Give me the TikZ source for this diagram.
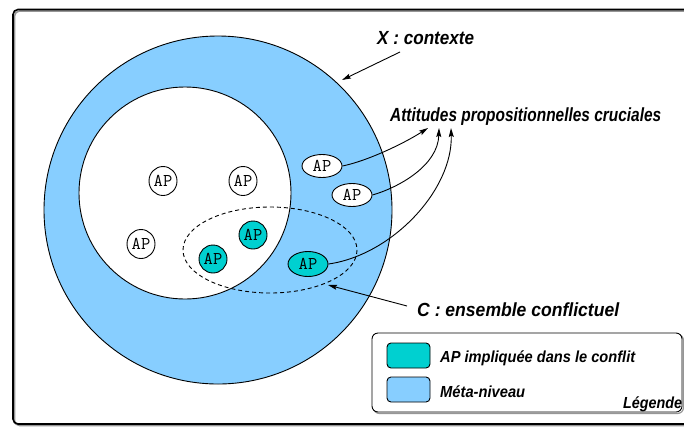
\documentclass[tikz,border=0pt]{standalone}
\usepackage{fontspec}
\setmainfont{Liberation Sans}
\usepackage{graphicx}
\usetikzlibrary{shapes.geometric,arrows.meta}

\definecolor{metablue}{RGB}{135,206,255}
\definecolor{apteal}{RGB}{0,208,208}
\definecolor{shadowgray}{RGB}{150,150,150}

% squeeze a label to a given width, keeping its height
\newcommand\fitw[2]{\resizebox{#1}{\height}{#2}}

\tikzset{
  apnode/.style={ellipse, draw, line width=0.9pt, inner sep=0pt,
    font=\ttfamily\fontsize{18}{18}\selectfont},
  apround/.style={apnode, fill=white, minimum width=28pt, minimum height=29pt},
  apflat/.style={apnode, fill=white, minimum width=40pt, minimum height=23pt},
  apconf/.style={apnode, fill=apteal, minimum width=28pt, minimum height=28pt},
  apconfflat/.style={apnode, fill=apteal, minimum width=40pt, minimum height=25pt},
  biglabel/.style={anchor=base west, inner sep=0pt,
    font=\bfseries\itshape\fontsize{19}{19}\selectfont},
  leglabel/.style={anchor=base west, inner sep=0pt,
    font=\bfseries\itshape\fontsize{16}{16}\selectfont},
  arr/.style={line width=0.9pt, -{Stealth[length=9pt,width=5pt,inset=1.5pt]}},
  swatch/.style={draw, line width=0.9pt, rounded corners=4pt}
}

\begin{document}
\begin{tikzpicture}[x=1pt,y=-1pt]
\useasboundingbox (0,0) rectangle (684,426);

% outer frame with its shadow
\draw[shadowgray, line width=1.6pt, rounded corners=5pt] (14.5,11) rectangle (692,425.5);
\draw[line width=1.6pt, rounded corners=5pt] (13,9.5) rectangle (690,424);

% context X (meta level) and the inner region
\draw[fill=metablue, line width=0.9pt] (218,210) circle[radius=174];
\draw[fill=white, line width=0.9pt] (185,193) circle[radius=106];

% conflicting set C
\draw[dashed, dash pattern=on 4pt off 3pt, line width=0.9pt]
  (270,250) ellipse[x radius=87, y radius=43];

% propositional attitudes
\node[apround] (a1) at (163,181) {AP};
\node[apround] (a2) at (243,181) {AP};
\node[apround] (a3) at (141,244) {AP};
\node[apconf] (c1) at (213,259) {AP};
\node[apconf] (c2) at (253,235) {AP};
\node[apconfflat] (c3) at (308,264) {AP};
\node[apflat] (m1) at (322,166) {AP};
\node[apflat] (m2) at (352,195) {AP};

% labels
\node[biglabel] (lx) at (377,44) {\fitw{97pt}{X : contexte}};
\node[biglabel] (lat) at (390,121) {\fitw{271pt}{Attitudes propositionnelles cruciales}};
\node[biglabel] (lc) at (417,316) {\fitw{202pt}{C : ensemble conflictuel}};

\coordinate (xs) at (400,52);
\coordinate (xe) at (342,80);
\coordinate (cs) at (407,306);
\coordinate (ce) at (328,285);
\coordinate (t1) at (428,128);
\coordinate (t2) at (439,128);
\coordinate (t3) at (451,128);

\draw[arr] (xs) -- (xe);
\draw[arr] (cs) -- (ce);

\draw[arr] (m1.east) .. controls (367,161) and (403,144) .. (t1);
\draw[arr] (m2.east) .. controls (400,187) and (438,165) .. (t2);
\draw[arr] (c3.east) .. controls (392,255) and (453,190) .. (t3);

% legend
\draw[shadowgray, line width=1.2pt, rounded corners=6pt] (373.5,334.5) rectangle (683.5,413.5);
\draw[fill=white, line width=0.9pt, rounded corners=6pt] (372,333) rectangle (682,412);
\draw[swatch, fill=apteal] (387,343) rectangle (430,368);
\draw[swatch, fill=metablue] (387,377) rectangle (430,402);
\node[leglabel] (l1) at (440,362) {\fitw{195pt}{AP impliquée dans le conflit}};
\node[leglabel] (l2) at (440,397) {\fitw{85pt}{Méta-niveau}};
\node[leglabel, font=\bfseries\itshape\fontsize{16}{16}\selectfont] (l3) at (623,408) {\fitw{59pt}{Légende}};
\end{tikzpicture}
\end{document}
